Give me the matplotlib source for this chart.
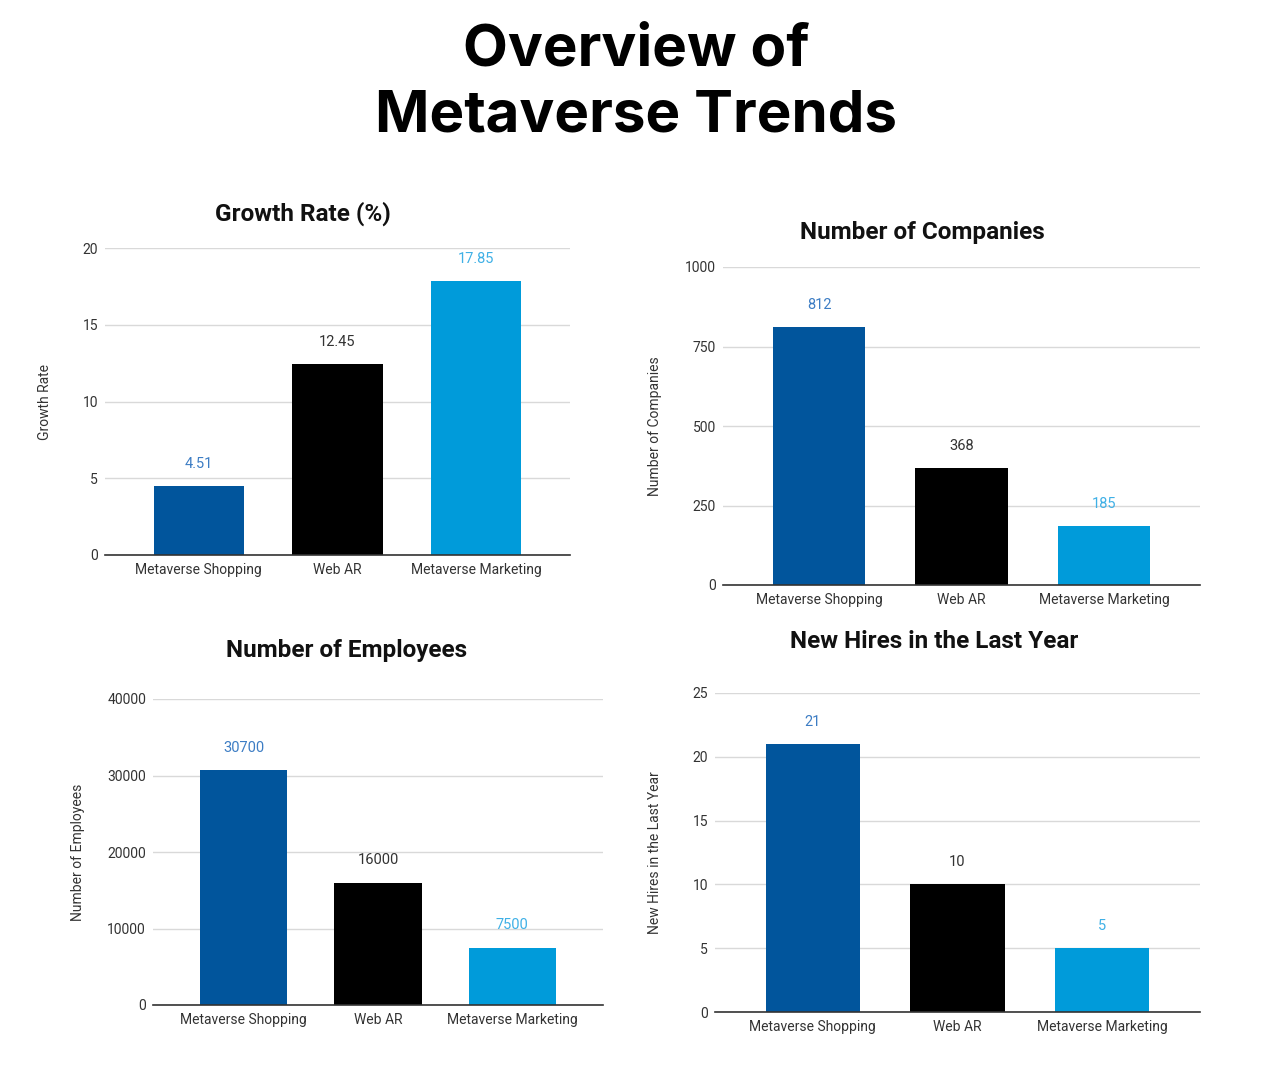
import matplotlib
matplotlib.use("Agg")
import matplotlib.pyplot as plt

categories = ["Metaverse Shopping", "Web AR", "Metaverse Marketing"]
growth_rate = [4.51, 12.45, 17.85]
companies = [812, 368, 185]
employees = [30700, 16000, 7500]
new_hires = [21, 10, 5]

bar_colors = ["#01559c", "#000000", "#009bda"]
label_colors = ["#3d7dc4", "#333333", "#3fb0e6"]

W, H = 1280, 1080
fig = plt.figure(figsize=(W / 100, H / 100), dpi=100)
fig.patch.set_facecolor("white")

fig.text(0.497, 1 - 50 / H, "Overview of", ha="center", va="center",
         fontsize=42, fontweight="bold", family=["Inter", "DejaVu Sans"], color="#000000")
fig.text(0.497, 1 - 116 / H, "Metaverse Trends", ha="center", va="center",
         fontsize=42, fontweight="bold", family=["Inter", "DejaVu Sans"], color="#000000")

panels = [
    # (values, title, ylabel, x0, x1, ytop, ybot, ymax, step, title_x, title_y, ylabel_x, fmt)
    (growth_rate, "Growth Rate (%)", "Growth Rate", 105, 570, 248, 555, 20, 5, 303, 214, 45, "{:.2f}"),
    (companies, "Number of Companies", "Number of Companies", 723, 1200, 267, 585, 1000, 250, 922, 232, 655, "{:d}"),
    (employees, "Number of Employees", "Number of Employees", 153, 603, 699, 1005, 40000, 10000, 347, 650, 78, "{:d}"),
    (new_hires, "New Hires in the Last Year", "New Hires in the Last Year", 715, 1200, 693, 1012, 25, 5, 934, 642, 655, "{:d}"),
]

font = ["Roboto", "DejaVu Sans"]

for vals, title, ylabel, x0, x1, ytop, ybot, ymax, step, tx, ty, ylx, fmt in panels:
    ax = fig.add_axes([x0 / W, 1 - ybot / H, (x1 - x0) / W, (ybot - ytop) / H])
    x = list(range(len(categories)))
    ax.bar(x, vals, width=0.65, color=bar_colors, zorder=3)
    ax.set_xlim(-0.675, 2.675)
    ax.set_ylim(0, ymax)
    ticks = list(range(0, ymax + 1, step))
    ax.set_yticks(ticks)
    ax.set_yticklabels([str(t) for t in ticks], fontsize=10, color="#333333", family=font)
    ax.set_xticks(x)
    ax.set_xticklabels(categories, fontsize=10, color="#333333", family=font)
    ax.tick_params(axis="y", length=0, pad=5)
    ax.tick_params(axis="x", length=0, pad=6)
    ax.grid(axis="y", color="#d9d9d9", linewidth=1, zorder=0)
    for s in ["top", "right", "left"]:
        ax.spines[s].set_visible(False)
    ax.spines["bottom"].set_color("#333333")
    ax.spines["bottom"].set_linewidth(1.2)
    ax.spines["bottom"].set_zorder(4)
    for xi, v, c in zip(x, vals, label_colors):
        ax.annotate(fmt.format(v), (xi, v), xytext=(0, 16), textcoords="offset points",
                    ha="center", va="center", fontsize=10.5, color=c, family=font)
    fig.text(tx / W, 1 - ty / H, title, ha="center", va="center", fontsize=17.5,
             fontweight="bold", color="#111111", family=font)
    fig.text(ylx / W, 1 - ((ytop + ybot) / 2) / H, ylabel, ha="center", va="center",
             rotation=90, fontsize=10, color="#333333", family=font)

fig.savefig("out.png", dpi=100, facecolor="white")
